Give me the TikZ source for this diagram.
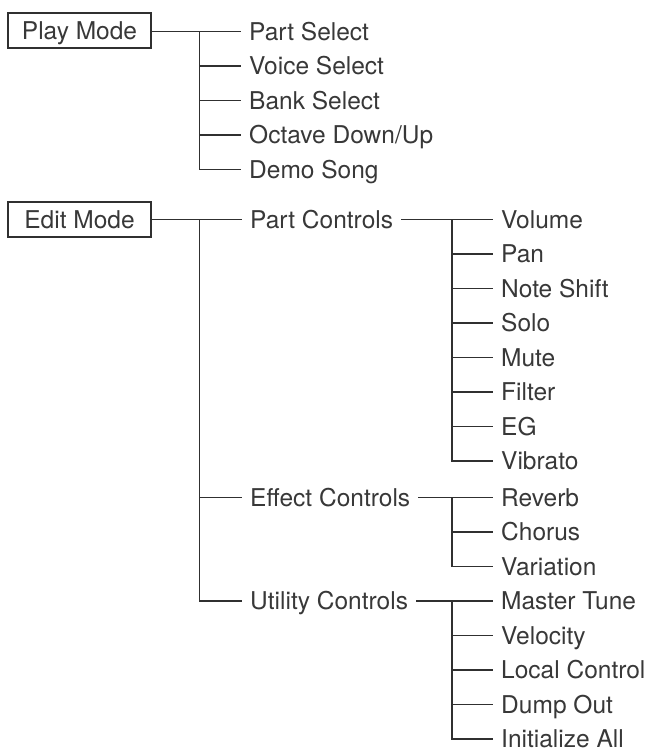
\documentclass[tikz,border=0pt]{standalone}
\usepackage{fontspec}
\setmainfont{TeX Gyre Heros}
\usepackage{tikz}
\usetikzlibrary{positioning,calc}
\definecolor{mmink}{HTML}{383838}
\definecolor{mmrule}{HTML}{303030}
\tikzset{
  mmtext/.style={text=mmink, font=\fontsize{24.5}{28}\selectfont,
                 text height=17.6pt, text depth=0pt},
  mmbox/.style={mmtext, draw=mmrule, line width=1.1pt, minimum width=143pt,
                minimum height=35pt, inner ysep=0pt},
  mmitem/.style={mmtext, anchor=west, inner xsep=8pt, inner ysep=0pt},
  mmline/.style={draw=mmrule, line width=1.1pt},
}
\begin{document}
\begin{tikzpicture}[x=1pt,y=-1pt]
  \useasboundingbox (0,0) rectangle (652,752);
  \node[mmbox] (play) at (79.5,30.5) {Play Mode};
  \node[mmbox] (edit) at (79.5,219.5) {Edit Mode};

  % play mode
  \foreach \i/\yy/\tt in {1/31.5/Part Select, 2/66/Voice Select, 3/100.5/Bank Select,
                          4/135/{Octave Down/Up}, 5/169.5/Demo Song}
    \node[mmitem] (pm\i) at (241,\yy) {\tt};
  \coordinate (pmt) at (199.5,31.5);
  \draw[mmline] (play.east |- pm1.west) -- (pm1.west);
  \draw[mmline] (pmt) |- (pm5.west);
  \foreach \i in {2,3,4} \draw[mmline] (pmt |- pm\i.west) -- (pm\i.west);

  % edit mode
  \foreach \i/\yy/\tt in {1/219.5/Part Controls, 2/497.5/Effect Controls, 3/601/Utility Controls}
    \node[mmitem] (em\i) at (242,\yy) {\tt};
  \coordinate (emt) at (199.5,219.5);
  \draw[mmline] (edit.east) -- (em1.west);
  \draw[mmline] (emt) |- (em3.west);
  \draw[mmline] (emt |- em2.west) -- (em2.west);

  % part controls
  \foreach \i/\yy/\tt in {1/219.5/Volume, 2/254/Pan, 3/288.5/Note Shift, 4/323/Solo,
                          5/357.5/Mute, 6/392/Filter, 7/426.5/EG, 8/461/Vibrato}
    \node[mmitem] (pc\i) at (493,\yy) {\tt};
  \coordinate (pct) at (452,219.5);
  \draw[mmline] (em1.east) -- (pc1.west);
  \draw[mmline] (pct) |- (pc8.west);
  \foreach \i in {2,...,7} \draw[mmline] (pct |- pc\i.west) -- (pc\i.west);

  % effect controls
  \foreach \i/\yy/\tt in {1/497.5/Reverb, 2/532/Chorus, 3/566.5/Variation}
    \node[mmitem] (ec\i) at (493,\yy) {\tt};
  \coordinate (ect) at (452,497.5);
  \draw[mmline] (em2.east) -- (ec1.west);
  \draw[mmline] (ect) |- (ec3.west);
  \draw[mmline] (ect |- ec2.west) -- (ec2.west);

  % utility controls
  \foreach \i/\yy/\tt in {1/601/Master Tune, 2/635.5/Velocity, 3/670/Local Control,
                          4/704.5/Dump Out, 5/739/Initialize All}
    \node[mmitem] (uc\i) at (493,\yy) {\tt};
  \coordinate (uct) at (452,601);
  \draw[mmline] (em3.east) -- (uc1.west);
  \draw[mmline] (uct) |- (uc5.west);
  \foreach \i in {2,3,4} \draw[mmline] (uct |- uc\i.west) -- (uc\i.west);
\end{tikzpicture}
\end{document}
